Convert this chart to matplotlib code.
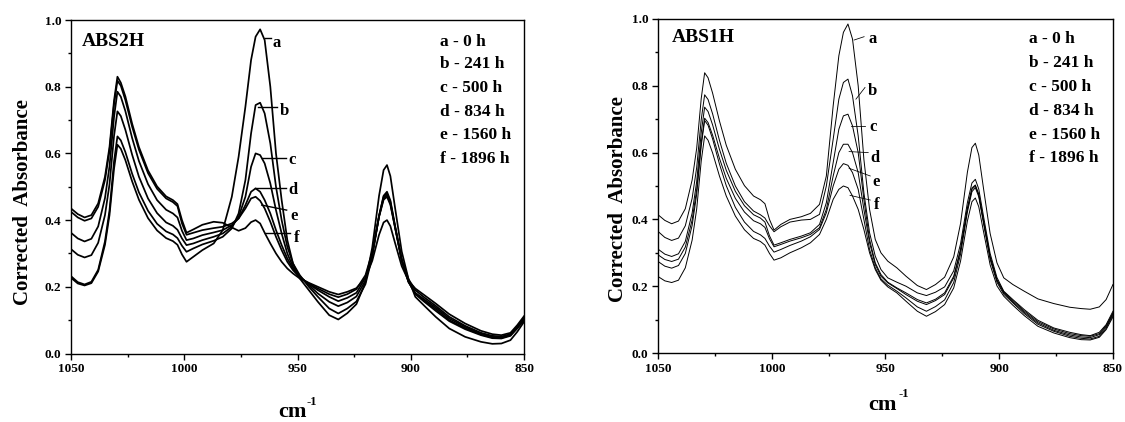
import matplotlib
matplotlib.use("Agg")
import matplotlib.pyplot as plt
from matplotlib.ticker import MultipleLocator, FormatStrFormatter

plt.rcParams['font.family'] = ['Liberation Serif', 'DejaVu Serif']
plt.rcParams['font.weight'] = 'bold'

# ---------------- data ----------------
wavenumber = [1050, 1047, 1044, 1041, 1038, 1035, 1033, 1031, 1029.5, 1028,
              1026, 1023, 1020, 1016, 1012, 1008, 1005, 1003, 1001, 999,
              996, 992, 987, 983, 979, 976, 973, 970.5, 968.5, 966.5,
              964.5, 962, 959.5, 957, 954.5, 952, 949, 945, 941, 936,
              932, 928, 924, 920, 917, 914, 912, 910.5, 909, 907,
              904, 901, 898, 894, 889, 883, 876, 869, 864, 860,
              856, 853, 850]

curve_labels = ['a', 'b', 'c', 'd', 'e', 'f']
legend_entries = ['a - 0 h', 'b - 241 h', 'c - 500 h', 'd - 834 h', 'e - 1560 h', 'f - 1896 h']
panel_titles = ['ABS2H', 'ABS1H']

# ABS2H (left panel)
abs2h_a = [.227, .210, .204, .211, .246, .326, .415, .554, .626, .614,
           .580, .516, .461, .406, .369, .346, .337, .326, .297, .275,
           .290, .310, .330, .370, .470, .590, .740, .880, .950, .972,
           .940, .800, .600, .460, .340, .270, .225, .190, .155, .115,
           .102, .121, .148, .214, .318, .473, .550, .565, .532, .440,
           .306, .223, .170, .143, .110, .075, .050, .035, .029, .030,
           .040, .065, .095]
abs2h_b = [.232, .214, .207, .215, .251, .336, .429, .576, .651, .639,
           .604, .539, .483, .428, .389, .366, .357, .346, .323, .305,
           .315, .327, .338, .350, .375, .420, .520, .660, .745, .752,
           .720, .630, .500, .400, .320, .270, .235, .200, .170, .135,
           .120, .135, .156, .208, .290, .413, .473, .485, .459, .386,
           .281, .216, .178, .155, .128, .097, .073, .055, .046, .045,
           .053, .075, .100]
abs2h_c = [.313, .296, .288, .295, .332, .415, .507, .652, .726, .712,
           .671, .596, .530, .465, .421, .393, .383, .371, .345, .325,
           .330, .340, .350, .360, .380, .410, .470, .560, .600, .595,
           .570, .510, .430, .360, .300, .260, .232, .205, .180, .155,
           .142, .153, .171, .219, .297, .413, .470, .480, .455, .383,
           .279, .215, .180, .158, .133, .100, .076, .057, .048, .047,
           .055, .078, .103]
abs2h_d = [.362, .345, .336, .344, .381, .466, .561, .709, .785, .770,
           .727, .646, .577, .508, .460, .431, .420, .408, .368, .340,
           .345, .355, .363, .370, .385, .405, .445, .485, .495, .485,
           .460, .420, .370, .325, .285, .255, .230, .208, .190, .170,
           .157, .167, .182, .227, .300, .411, .465, .475, .450, .380,
           .278, .214, .182, .162, .138, .105, .080, .060, .050, .048,
           .056, .080, .108]
abs2h_e = [.425, .408, .398, .405, .440, .520, .608, .747, .818, .803,
           .760, .680, .611, .541, .494, .465, .454, .442, .390, .356,
           .362, .370, .376, .380, .390, .405, .435, .465, .470, .458,
           .435, .395, .350, .310, .275, .250, .228, .210, .195, .178,
           .169, .178, .193, .235, .304, .410, .461, .470, .446, .380,
           .283, .223, .190, .168, .143, .110, .083, .062, .053, .051,
           .058, .080, .105]
abs2h_f = [.435, .418, .408, .415, .450, .530, .619, .758, .830, .812,
           .771, .689, .619, .549, .501, .471, .460, .448, .400, .362,
           .372, .386, .395, .392, .378, .368, .376, .394, .400, .390,
           .362, .330, .300, .275, .255, .240, .225, .212, .200, .185,
           .177, .185, .196, .227, .278, .356, .393, .400, .382, .333,
           .262, .218, .195, .175, .150, .118, .090, .068, .058, .055,
           .062, .085, .112]

# ABS1H (right panel)
abs1h_a = [.414, .397, .387, .395, .432, .518, .613, .762, .839, .824,
           .778, .695, .622, .550, .501, .470, .459, .447, .400, .368,
           .385, .400, .408, .418, .445, .530, .740, .890, .960, .985,
           .940, .800, .580, .430, .340, .300, .275, .255, .230, .202,
           .190, .205, .227, .288, .388, .541, .615, .628, .593, .497,
           .358, .270, .225, .205, .185, .162, .148, .137, .133, .131,
           .138, .160, .205]
abs1h_b = [.364, .346, .337, .344, .381, .463, .555, .699, .773, .759,
           .716, .637, .568, .500, .453, .425, .414, .404, .381, .363,
           .378, .392, .398, .400, .415, .500, .640, .760, .810, .820,
           .770, .650, .480, .360, .290, .250, .225, .212, .200, .180,
           .172, .182, .198, .246, .327, .450, .509, .520, .491, .413,
           .298, .226, .185, .160, .130, .098, .075, .062, .055, .052,
           .062, .085, .125]
abs1h_c = [.311, .296, .289, .297, .334, .419, .513, .660, .736, .723,
           .683, .610, .547, .484, .441, .414, .404, .392, .351, .323,
           .330, .340, .350, .360, .385, .450, .570, .670, .710, .715,
           .680, .600, .460, .340, .270, .235, .212, .195, .180, .160,
           .150, .161, .180, .230, .311, .434, .494, .503, .476, .400,
           .289, .220, .183, .157, .126, .094, .072, .058, .052, .050,
           .058, .082, .120]
abs1h_d = [.294, .280, .274, .281, .317, .398, .489, .630, .703, .690,
           .652, .583, .523, .463, .422, .396, .387, .376, .342, .318,
           .325, .335, .345, .355, .375, .430, .530, .600, .625, .625,
           .600, .540, .430, .330, .265, .230, .210, .193, .175, .155,
           .145, .157, .175, .225, .307, .430, .490, .500, .473, .397,
           .286, .217, .180, .153, .122, .090, .068, .054, .048, .046,
           .055, .078, .117]
abs1h_e = [.274, .260, .254, .262, .298, .382, .475, .621, .696, .682,
           .641, .566, .501, .436, .392, .364, .354, .343, .320, .302,
           .310, .322, .335, .348, .370, .420, .500, .550, .567, .562,
           .540, .490, .400, .310, .255, .222, .203, .185, .165, .138,
           .125, .139, .159, .211, .296, .422, .483, .495, .468, .392,
           .280, .212, .176, .150, .118, .086, .065, .050, .044, .042,
           .050, .074, .113]
abs1h_f = [.229, .216, .211, .218, .255, .338, .431, .575, .650, .637,
           .599, .530, .470, .410, .369, .343, .334, .323, .298, .278,
           .285, .300, .315, .330, .355, .400, .460, .490, .500, .495,
           .470, .430, .370, .300, .250, .218, .198, .180, .155, .125,
           .110, .124, .145, .195, .275, .395, .453, .464, .438, .367,
           .264, .201, .170, .143, .112, .080, .060, .046, .040, .039,
           .047, .070, .108]

panel_series = [
    [abs2h_a, abs2h_b, abs2h_c, abs2h_d, abs2h_e, abs2h_f],
    [abs1h_a, abs1h_b, abs1h_c, abs1h_d, abs1h_e, abs1h_f],
]

# ---------------- figure ----------------
fig = plt.figure(figsize=(11.25, 4.22), dpi=100)
ax_left = fig.add_axes([0.0631, 0.1623, 0.4027, 0.7903])
ax_right = fig.add_axes([0.5849, 0.1635, 0.4044, 0.7915])
axes = [ax_left, ax_right]
line_widths = [1.25, 0.7]

# leader lines (start, end) and label anchor for each curve label, per panel
leaders = [
    [((964.5, .946), (961.8, .946)), ((967.5, .739), (959.2, .739)),
     ((965.6, .586), (955.3, .586)), ((968.7, .496), (955.3, .496)),
     ((965.8, .445), (954.8, .430)), ((964.3, .360), (953.5, .360))],
    [((963.8, .937), (959.4, .947)), ((963.0, .760), (959.0, .795)),
     ((965.3, .680), (959.0, .680)), ((966.0, .603), (957.6, .600)),
     ((966.0, .553), (956.7, .530)), ((965.6, .472), (956.7, .458))],
]
label_pos = [
    [(961.2, .931), (957.8, .728), (954.0, .580), (954.0, .490), (953.3, .413), (951.8, .345)],
    [(957.6, .940), (957.6, .783), (957.0, .678), (956.8, .584), (955.7, .512), (955.3, .444)],
]
title_pos = [(1045.3, .935), (1044.0, .945)]
legend_y = [[.935, .867, .795, .725, .655, .582], [.939, .868, .796, .726, .654, .585]]
ylabel_xy = [(-0.083, 0.455), (-0.067, 0.462)]
cm_xy = [(0.489, -0.1745), (0.4945, -0.157)]
sup_xy = [(0.531, -0.1445), (0.5396, -0.122)]

for i, ax in enumerate(axes):
    for ys in panel_series[i]:
        ax.plot(wavenumber, ys, color='black', lw=line_widths[i], solid_joinstyle='round')
    ax.set_xlim(1050, 850)
    ax.set_ylim(0.0, 1.0)
    ax.xaxis.set_major_locator(MultipleLocator(50))
    ax.xaxis.set_minor_locator(MultipleLocator(25))
    ax.yaxis.set_major_locator(MultipleLocator(0.2))
    ax.yaxis.set_minor_locator(MultipleLocator(0.1))
    ax.yaxis.set_major_formatter(FormatStrFormatter('%.1f'))
    ax.tick_params(which='both', direction='out', top=False, right=False,
                   width=1.0, labelsize=9.5, pad=3)
    ax.tick_params(which='major', length=4)
    ax.tick_params(which='minor', length=2.5)
    for sp in ax.spines.values():
        sp.set_linewidth(1.0)
    for lab in ax.get_xticklabels() + ax.get_yticklabels():
        lab.set_fontweight('bold')
    ax.set_ylabel('Corrected  Absorbance', fontsize=15, fontweight='bold')
    ax.yaxis.set_label_coords(*ylabel_xy[i])

    # x axis label: "cm" with superscript "-1"
    ax.text(cm_xy[i][0], cm_xy[i][1], 'cm', transform=ax.transAxes, fontsize=16,
            fontweight='bold', ha='center', va='center')
    ax.text(sup_xy[i][0], sup_xy[i][1], '-1', transform=ax.transAxes, fontsize=9,
            fontweight='bold', ha='center', va='center')

    ax.text(title_pos[i][0], title_pos[i][1], panel_titles[i], fontsize=14,
            fontweight='bold', ha='left', va='center')
    for k, txt in enumerate(legend_entries):
        ax.text(887.0, legend_y[i][k], txt, fontsize=12.5, fontweight='bold',
                ha='left', va='center')
    for k, lab in enumerate(curve_labels):
        (x0, y0), (x1, y1) = leaders[i][k]
        ax.plot([x0, x1], [y0, y1], color='black', lw=line_widths[i] * 0.8)
        ax.text(label_pos[i][k][0], label_pos[i][k][1], lab, fontsize=12,
                fontweight='bold', ha='left', va='center')

fig.savefig('out.png', dpi=100)
